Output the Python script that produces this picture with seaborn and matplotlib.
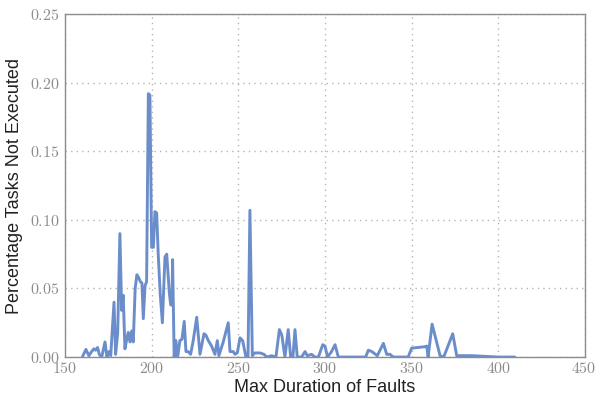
import matplotlib
matplotlib.use("Agg")
import matplotlib.pyplot as plt
import matplotlib.ticker as mticker
import matplotlib.transforms as mtransforms
import seaborn as sns
import pandas as pd

# Max duration of faults (x) and percentage of tasks not executed (y)
durations = [160.0, 162.1, 163.8, 165.4, 166.7, 167.7, 168.8, 169.8, 171.2, 173.1, 174.2,
             175.4, 176.4, 178.3, 179.2, 180.4, 181.7, 182.7, 183.6, 184.6, 185.5,
             186.5, 187.5, 188.5, 189.4, 190.5, 191.5, 192.5, 193.5, 194.4, 195.2,
             196.2, 197.1, 198.1, 199.0, 200.0, 201.0, 201.9, 202.9, 203.8, 205.0,
             206.2, 207.7, 208.7, 210.2, 211.0, 211.7, 212.1, 213.0, 214.0, 215.0,
             216.3, 217.5, 218.8, 219.8, 221.0, 222.5, 224.0, 226.0, 227.9, 230.2,
             231.3, 232.7, 234.6, 236.5, 237.9, 238.8, 241.3, 244.2, 245.2, 247.1,
             248.1, 249.4, 251.0, 252.5, 254.4, 255.6, 256.7, 258.1, 259.6, 262.5,
             264.8, 266.4, 269.2, 271.7, 273.7, 275.1, 276.9, 278.8, 280.2, 281.5,
             282.7, 284.0, 286.5, 288.5, 289.8, 292.3, 294.2, 296.2, 298.7, 300.0,
             301.5, 303.8, 305.8, 307.7, 315.0, 323.5, 325.0, 327.0, 330.2, 333.7,
             335.6, 337.5, 339.4, 348.0, 350.0, 357.5, 358.7, 359.5, 361.8, 366.4,
             368.5, 373.7, 376.0, 385.0, 400.0, 409.5]
pct_not_executed = [0.0, 0.0056, 0.001, 0.004, 0.006, 0.005, 0.007, 0.002, 0.0, 0.011, 0.0,
                    0.004, 0.001, 0.040, 0.002, 0.017, 0.090, 0.034, 0.045, 0.006, 0.012,
                    0.018, 0.011, 0.019, 0.011, 0.050, 0.060, 0.058, 0.055, 0.054, 0.028,
                    0.052, 0.055, 0.192, 0.191, 0.080, 0.080, 0.106, 0.105, 0.075, 0.045,
                    0.025, 0.073, 0.075, 0.047, 0.038, 0.038, 0.071, 0.0, 0.012, 0.0,
                    0.012, 0.013, 0.026, 0.004, 0.004, 0.002, 0.012, 0.029, 0.002, 0.017,
                    0.016, 0.012, 0.008, 0.002, 0.012, 0.001, 0.011, 0.025, 0.004, 0.004,
                    0.002, 0.003, 0.014, 0.012, 0.0, 0.0, 0.107, 0.001, 0.003, 0.003,
                    0.002, 0.0, 0.001, 0.0, 0.020, 0.016, 0.0, 0.020, 0.0, 0.0,
                    0.020, 0.0, 0.0, 0.004, 0.001, 0.002, 0.0, 0.0, 0.009, 0.008,
                    0.0, 0.004, 0.009, 0.0, 0.0, 0.0, 0.005, 0.004, 0.001, 0.010,
                    0.002, 0.002, 0.0, 0.0, 0.0065, 0.0075, 0.008, 0.0, 0.024, 0.001,
                    0.0, 0.017, 0.001, 0.001, 0.0, 0.0]

x_ticks = [150, 200, 250, 300, 350, 400, 450]
y_ticks = [0.00, 0.05, 0.10, 0.15, 0.20, 0.25]

sns.set_theme(style="white")
plt.rcParams["font.family"] = ["Liberation Sans", "DejaVu Sans"]
plt.rcParams["mathtext.fontset"] = "cm"

df = pd.DataFrame({"duration": durations, "pct": pct_not_executed})

fig = plt.figure(figsize=(5.96, 4.03), dpi=100)
ax = fig.add_axes([0.109, 0.114, 0.8725, 0.851])

sns.lineplot(data=df, x="duration", y="pct", estimator=None, sort=False,
             color="#6b8ecb", linewidth=2.1, ax=ax)

ax.set_xlim(150, 450)
ax.set_ylim(0, 0.25)
ax.set_xticks(x_ticks)
ax.set_yticks(y_ticks)
ax.xaxis.set_major_formatter(mticker.FuncFormatter(lambda v, p: r"$%d$" % v))
ax.yaxis.set_major_formatter(mticker.FuncFormatter(lambda v, p: r"$%.2f$" % v))

ax.grid(True, color="#b5b5b5", linestyle=(0, (1, 3)), linewidth=1.0)
for s in ax.spines.values():
    s.set_visible(True)
    s.set_color("#8c8c8c")
    s.set_linewidth(1.0)

ax.tick_params(axis="both", direction="in", length=4, width=1, color="#8c8c8c",
               labelcolor="#8c8c8c", labelsize=11.5, pad=4)
ax.tick_params(axis="x", pad=3)
ax.tick_params(top=False, right=False)

ax.set_xlabel("Max Duration of Faults", fontsize=13, color="#222222", labelpad=2)
ax.set_ylabel("Percentage Tasks Not Executed", fontsize=13, color="#222222", labelpad=5)

# nudge the last x tick label so it stays inside the canvas
last = ax.get_xticklabels()[-1]
last.set_horizontalalignment("right")
last.set_transform(last.get_transform() +
                   mtransforms.ScaledTranslation(11 / 100, 0, fig.dpi_scale_trans))

fig.savefig("out.png", dpi=100)
